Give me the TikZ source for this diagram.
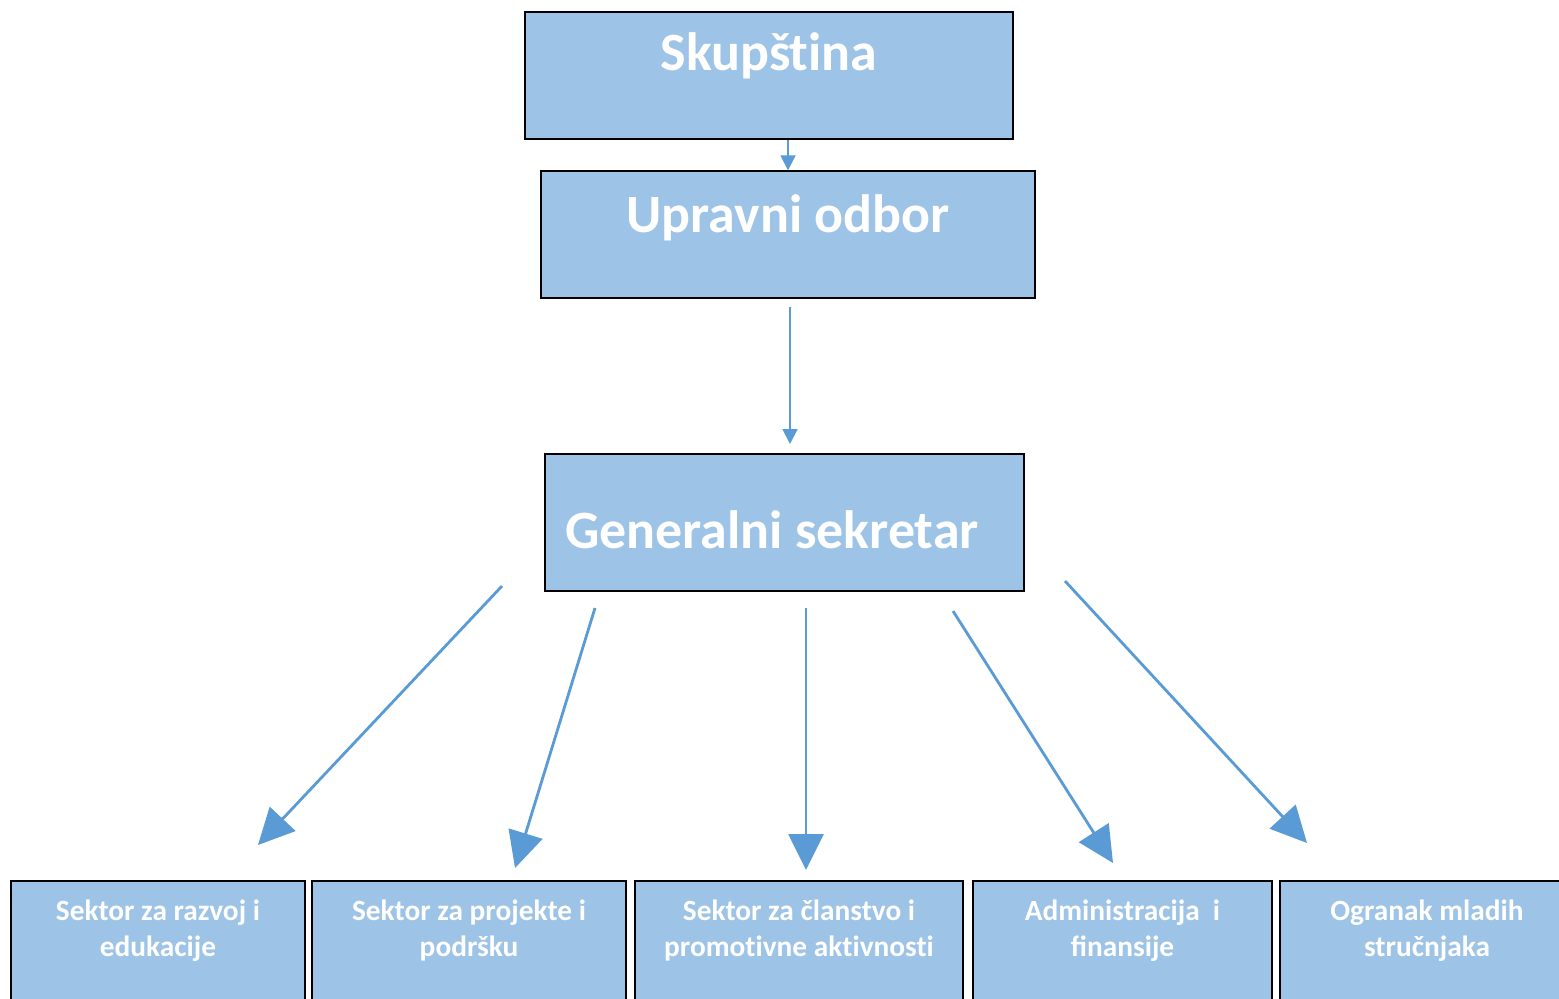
\documentclass[tikz,border=0pt]{standalone}
\usepackage{fontspec}
\setmainfont{Carlito}
\usetikzlibrary{arrows.meta}
\definecolor{boxblue}{HTML}{9DC3E6}
\definecolor{linkblue}{HTML}{5B9BD5}
\newcommand{\ti}{t\kern0pt i}% bez ligature "ti"
\tikzset{%
    Organ box/.style={%
        draw=black,
        thick,
        fill=boxblue,
        inner sep=0pt,
        text=white,
        font=\fontsize{30.7}{36}\selectfont\bfseries
    },
    Sektor box/.style={%
        Organ box,
        font=\fontsize{16.7}{21}\selectfont\bfseries,
        align=flush center,
        text height=.78cm,
        text depth=2.2cm
    },
    Veza arrow/.style={%
        draw=linkblue,
        line width=1.6pt,
        -{Triangle[length=.72cm,width=.7cm]}
    },
    Veza small/.style={%
        draw=linkblue,
        line width=1.1pt,
        -{Triangle[length=.3cm,width=.3cm]}
    }
}
\begin{document}
\begin{tikzpicture}
\useasboundingbox (0,0) rectangle (31.18,-19.96);

% organi upravljanja
\node[Organ box,minimum width=9.76cm,text height=1.16cm,text depth=1.38cm]
    (skup) at (15.38,-1.51) {Skupš\ti na};
\node[Organ box,minimum width=9.88cm,text height=1.22cm,text depth=1.32cm]
    (upr) at (15.76,-4.69) {Upravni odbor};
\node[Organ box,minimum width=9.58cm,text height=1.88cm,text depth=.86cm]
    (gen) at (15.69,-10.45) {Generalni sekretar\hspace*{.5cm}};

% sektori
\node[Sektor box,minimum width=5.88cm,text width=5.6cm]
    (razvoj) at (3.16,-19.11) {Sektor za razvoj i\\edukacije};
\node[Sektor box,minimum width=6.28cm,text width=6cm]
    (projekti) at (9.38,-19.11) {Sektor za projekte i\\podršku};
\node[Sektor box,minimum width=6.56cm,text width=6.3cm]
    (clanstvo) at (15.98,-19.11) {Sektor za članstvo i\\promo\ti vne ak\ti vnos\ti};
\node[Sektor box,minimum width=5.98cm,text width=5.7cm]
    (admin) at (22.45,-19.11) {Administracija~ i\\finansije};
\node[Sektor box,minimum width=5.88cm,text width=5.6cm]
    (ogranak) at (28.54,-19.11) {Ogranak mladih\\stručnjaka};

\draw[Veza small] (upr.north |- skup.south) -- (upr.north);
\draw[Veza small]
        (15.80,-6.14) coordinate (U1)
    --  (15.80,-8.88) coordinate (G1) ;

\draw[Veza arrow] (10.04,-11.72) coordinate (S1) -- (5.16,-16.90) coordinate (R1) ;
\draw[Veza arrow] (11.90,-12.16) coordinate (S2) -- (10.30,-17.36) coordinate (P1) ;
\draw[Veza arrow] (16.12,-12.16) coordinate (S3) -- (16.12,-17.40) coordinate (C1) ;
\draw[Veza arrow] (19.06,-12.22) coordinate (S4) -- (22.26,-17.26) coordinate (A1) ;
\draw[Veza arrow] (21.30,-11.62) coordinate (S5) -- (26.14,-16.86) coordinate (O1) ;

\end{tikzpicture}
\end{document}
